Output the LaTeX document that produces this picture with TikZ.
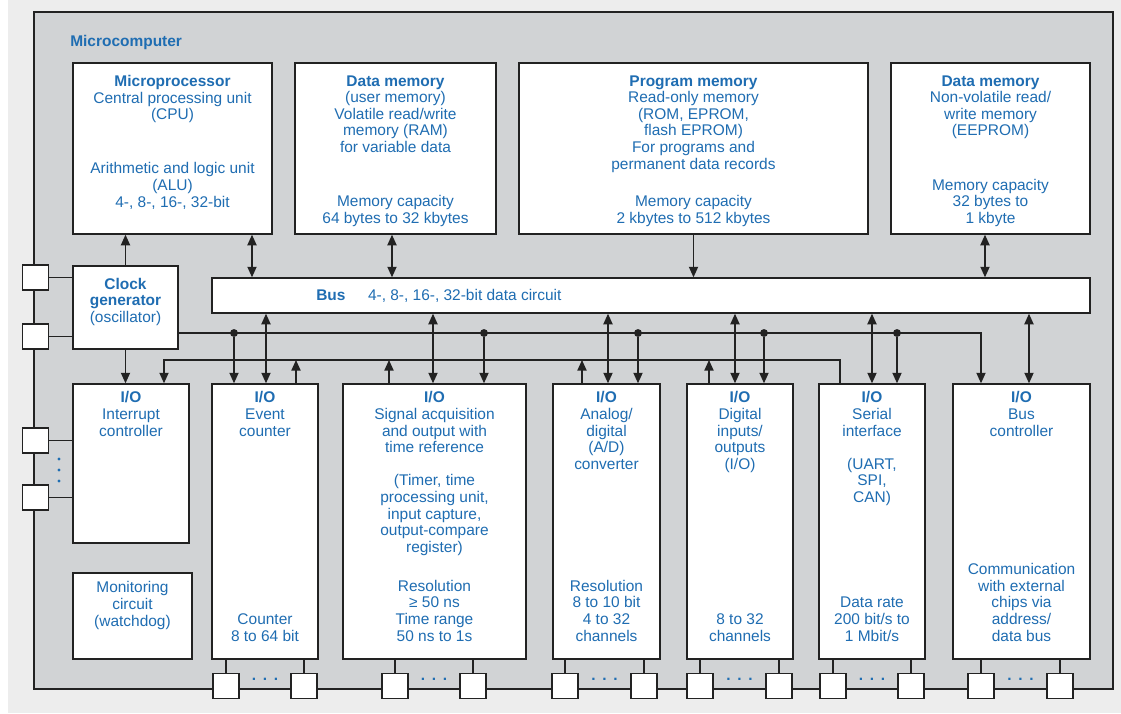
\documentclass[tikz,border=0pt]{standalone}
\usepackage{fontspec}
\setmainfont{Liberation Sans}
\usetikzlibrary{positioning,fit,calc,arrows.meta}
\definecolor{ioblue}{HTML}{1F6DB2}
\definecolor{mcgray}{HTML}{D1D3D5}
\definecolor{pagegray}{HTML}{EDEDED}
\definecolor{wire}{HTML}{222222}

\begin{document}
\begin{tikzpicture}[
    x=0.025cm, y=-0.025cm,
    >={Triangle[length=7.5pt,width=6.5pt]},
    unitbox/.style={
        draw=wire,
        line width=1pt,
        fill=white,
        inner sep=0pt
    },
    padbox/.style={
        draw=wire,
        line width=1pt,
        fill=white,
        inner sep=0pt,
        minimum width=0.65cm,
        minimum height=0.63cm
    },
    lbl/.style={
        align=center,
        text=ioblue,
        inner sep=0pt,
        font=\fontsize{11}{11.8}\selectfont
    },
    lowlbl/.style={lbl, text depth=0pt},
    dotrow/.style={lbl, font=\bfseries\fontsize{11}{7.8}\selectfont},
    junction/.style={circle, fill=wire, inner sep=0pt, minimum size=5.6pt},
    link/.style={draw=wire, line width=1pt},
    flowarrow/.style={link, ->},
    busarrow/.style={link, <->}
]
\useasboundingbox (0,0) rectangle (1121,713);
\fill[white] (0,0) rectangle (1121,713);
\fill[pagegray] (8,0) rectangle (1121,713);

\node[fit={(34,12) (1113,689)}, draw=wire, line width=1pt, fill=mcgray, inner sep=0pt] (mc) {};
\node[lbl, anchor=west] (mctitle) at (70,42) {\textbf{Microcomputer}};

\node[unitbox, fit={(73,63) (272,234)}] (cpu) {};
\node[unitbox, fit={(295,63) (496,234)}] (ram) {};
\node[unitbox, fit={(519,63) (868,234)}] (rom) {};
\node[unitbox, fit={(891,63) (1090,234)}] (eeprom) {};

\node[lbl, below=9.2pt of cpu.north] (cputop) {\textbf{Microprocessor}\\Central processing unit\\(CPU)};
\node[lowlbl, above=19.5pt of cpu.south] (cpubot) {Arithmetic and logic unit\\(ALU)\\4-, 8-, 16-, 32-bit};
\node[lbl, below=9.2pt of ram.north] (ramtop) {\textbf{Data memory}\\(user memory)\\Volatile read/write\\memory (RAM)\\for variable data};
\node[lowlbl, above=7.9pt of ram.south] (rambot) {Memory capacity\\64 bytes to 32 kbytes};
\node[lbl, below=9.2pt of rom.north] (romtop) {\textbf{Program memory}\\Read-only memory\\(ROM, EPROM,\\flash EPROM)\\For programs and\\permanent data records};
\node[lowlbl, above=7.9pt of rom.south] (rombot) {Memory capacity\\2 kbytes to 512 kbytes};
\node[lbl, below=9.2pt of eeprom.north] (eepromtop) {\textbf{Data memory}\\Non-volatile read/\\write memory\\(EEPROM)};
\node[lowlbl, above=7.9pt of eeprom.south] (eeprombot) {Memory capacity\\32 bytes to\\1 kbyte};

\node[unitbox, lbl, fit={(73,266) (178,349)}] (clk) {\textbf{Clock}\\\textbf{generator}\\(oscillator)};
\node[unitbox, fit={(212,278) (1090,313)}] (bus) {};
\node[lbl, anchor=west] (bustext) at (bus.west -| 316,0) {\textbf{Bus}\hspace{16pt}4-, 8-, 16-, 32-bit data circuit};

\node[unitbox, fit={(73,384) (189,543)}] (irq) {};
\node[unitbox, fit={(73,573) (192,659)}] (wdog) {};
\node[unitbox, fit={(212,384) (318,659)}] (evt) {};
\node[unitbox, fit={(343,384) (526,659)}] (tpu) {};
\node[unitbox, fit={(553,384) (660,659)}] (adc) {};
\node[unitbox, fit={(687,384) (793,659)}] (dio) {};
\node[unitbox, fit={(819,384) (925,659)}] (sci) {};
\node[unitbox, fit={(953,384) (1090,659)}] (bctl) {};

\node[lbl, below=5.8pt of irq.north] (irqtop) {\textbf{I/O}\\Interrupt\\controller};
\node[lbl, below=6.5pt of wdog.north] (wdogtop) {Monitoring\\circuit\\(watchdog)};
\node[lbl, below=5.8pt of evt.north] (evttop) {\textbf{I/O}\\Event\\counter};
\node[lowlbl, above=13.1pt of evt.south] (evtbot) {Counter\\8 to 64 bit};
\node[lbl, below=5.8pt of tpu.north] (tputop) {\textbf{I/O}\\Signal acquisition\\and output with\\time reference\\[11.8pt](Timer, time\\processing unit,\\input capture,\\output-compare\\register)};
\node[lowlbl, above=13.1pt of tpu.south] (tpubot) {Resolution\\≥ 50 ns\\Time range\\50 ns to 1s};
\node[lbl, below=5.8pt of adc.north] (adctop) {\textbf{I/O}\\Analog/\\digital\\(A/D)\\converter};
\node[lowlbl, above=13.1pt of adc.south] (adcbot) {Resolution\\8 to 10 bit\\4 to 32\\channels};
\node[lbl, below=5.8pt of dio.north] (diotop) {\textbf{I/O}\\Digital\\inputs/\\outputs\\(I/O)};
\node[lowlbl, above=13.1pt of dio.south] (diobot) {8 to 32\\channels};
\node[lbl, below=5.8pt of sci.north] (scitop) {\textbf{I/O}\\Serial\\interface\\[11.8pt](UART,\\SPI,\\CAN)};
\node[lowlbl, above=13.1pt of sci.south] (scibot) {Data rate\\200 bit/s to\\1 Mbit/s};
\node[lbl, below=5.8pt of bctl.north] (bctltop) {\textbf{I/O}\\Bus\\controller};
\node[lowlbl, above=13.1pt of bctl.south] (bctlbot) {Communication\\with external\\chips via\\address/\\data bus};

\node[padbox] (clkpad1) at (35.5,277.5) {};
\node[padbox] (clkpad2) at (35.5,336.5) {};
\node[padbox] (irqpad1) at (35.5,440.5) {};
\node[padbox] (irqpad2) at (35.5,497.5) {};
\fill[ioblue] (59,459) circle (1.2pt) (59,470) circle (1.2pt) (59,481) circle (1.2pt);
\draw[link] (clkpad1) -- (clkpad1 -| clk.west);
\draw[link] (clkpad2) -- (clkpad2 -| clk.west);
\draw[link] (irqpad1) -- (irqpad1 -| irq.west);
\draw[link] (irqpad2) -- (irqpad2 -| irq.west);

\node[padbox] (evtpad1) at (226,686) {};
\node[padbox] (evtpad2) at (304,686) {};
\node[padbox] (tpupad1) at (395,686) {};
\node[padbox] (tpupad2) at (473,686) {};
\node[padbox] (adcpad1) at (565,686) {};
\node[padbox] (adcpad2) at (644,686) {};
\node[padbox] (diopad1) at (700,686) {};
\node[padbox] (diopad2) at (779,686) {};
\node[padbox] (scipad1) at (833,686) {};
\node[padbox] (scipad2) at (911,686) {};
\node[padbox] (bctlpad1) at (981,686) {};
\node[padbox] (bctlpad2) at (1060,686) {};

\node[dotrow, yshift=5pt] (evtdots) at ($(evtpad1)!0.5!(evtpad2)$) {.\hspace{4.8pt}.\hspace{4.8pt}.};
\node[dotrow, yshift=5pt] (tpudots) at ($(tpupad1)!0.5!(tpupad2)$) {.\hspace{4.8pt}.\hspace{4.8pt}.};
\node[dotrow, yshift=5pt] (adcdots) at ($(adcpad1)!0.5!(adcpad2)$) {.\hspace{4.8pt}.\hspace{4.8pt}.};
\node[dotrow, yshift=5pt] (diodots) at ($(diopad1)!0.5!(diopad2)$) {.\hspace{4.8pt}.\hspace{4.8pt}.};
\node[dotrow, yshift=5pt] (scidots) at ($(scipad1)!0.5!(scipad2)$) {.\hspace{4.8pt}.\hspace{4.8pt}.};
\node[dotrow, yshift=5pt] (bctldots) at ($(bctlpad1)!0.5!(bctlpad2)$) {.\hspace{4.8pt}.\hspace{4.8pt}.};

\draw[link] (evtpad1) -- (evtpad1 |- evt.south);
\draw[link] (evtpad2) -- (evtpad2 |- evt.south);
\draw[link] (tpupad1) -- (tpupad1 |- tpu.south);
\draw[link] (tpupad2) -- (tpupad2 |- tpu.south);
\draw[link] (adcpad1) -- (adcpad1 |- adc.south);
\draw[link] (adcpad2) -- (adcpad2 |- adc.south);
\draw[link] (diopad1) -- (diopad1 |- dio.south);
\draw[link] (diopad2) -- (diopad2 |- dio.south);
\draw[link] (scipad1) -- (scipad1 |- sci.south);
\draw[link] (scipad2) -- (scipad2 |- sci.south);
\draw[link] (bctlpad1) -- (bctlpad1 |- bctl.south);
\draw[link] (bctlpad2) -- (bctlpad2 |- bctl.south);

\draw[flowarrow] (clk.north) -- (clk.north |- cpu.south);
\draw[flowarrow] (clk.south) -- (clk.south |- irq.north);
\draw[busarrow] (cpu.south -| 252,0) -- (bus.north -| 252,0);
\draw[busarrow] (ram.south -| 392,0) -- (bus.north -| 392,0);
\draw[flowarrow] (rom.south) -- (rom.south |- bus.north);
\draw[busarrow] (eeprom.south -| 985,0) -- (bus.north -| 985,0);

\draw[busarrow] (bus.south -| 266,0) -- (evt.north -| 266,0);
\draw[busarrow] (bus.south -| 433,0) -- (tpu.north -| 433,0);
\draw[busarrow] (bus.south -| 608,0) -- (adc.north -| 608,0);
\draw[busarrow] (bus.south -| 735,0) -- (dio.north -| 735,0);
\draw[busarrow] (bus.south -| 872,0) -- (sci.north -| 872,0);
\draw[busarrow] (bus.south -| 1029,0) -- (bctl.north -| 1029,0);

\coordinate (tickend) at (981,333);
\draw[flowarrow] (clk.east |- tickend) -- (tickend) -- (tickend |- bctl.north);
\node[junction] (tick1) at (234,333) {};
\node[junction] (tick2) at (484,333) {};
\node[junction] (tick3) at (638,333) {};
\node[junction] (tick4) at (764,333) {};
\node[junction] (tick5) at (897,333) {};
\draw[flowarrow] (tick1) -- (tick1 |- evt.north);
\draw[flowarrow] (tick2) -- (tick2 |- tpu.north);
\draw[flowarrow] (tick3) -- (tick3 |- adc.north);
\draw[flowarrow] (tick4) -- (tick4 |- dio.north);
\draw[flowarrow] (tick5) -- (tick5 |- sci.north);

\coordinate (irqbus) at (840,360);
\draw[flowarrow] (sci.north -| irqbus) -- (irqbus) -- (irqbus -| 164,0) -- (irq.north -| 164,0);
\draw[flowarrow] (evt.north -| 296,0) -- (irqbus -| 296,0);
\draw[flowarrow] (tpu.north -| 389,0) -- (irqbus -| 389,0);
\draw[flowarrow] (adc.north -| 582,0) -- (irqbus -| 582,0);
\draw[flowarrow] (dio.north -| 709,0) -- (irqbus -| 709,0);
\end{tikzpicture}
\end{document}
